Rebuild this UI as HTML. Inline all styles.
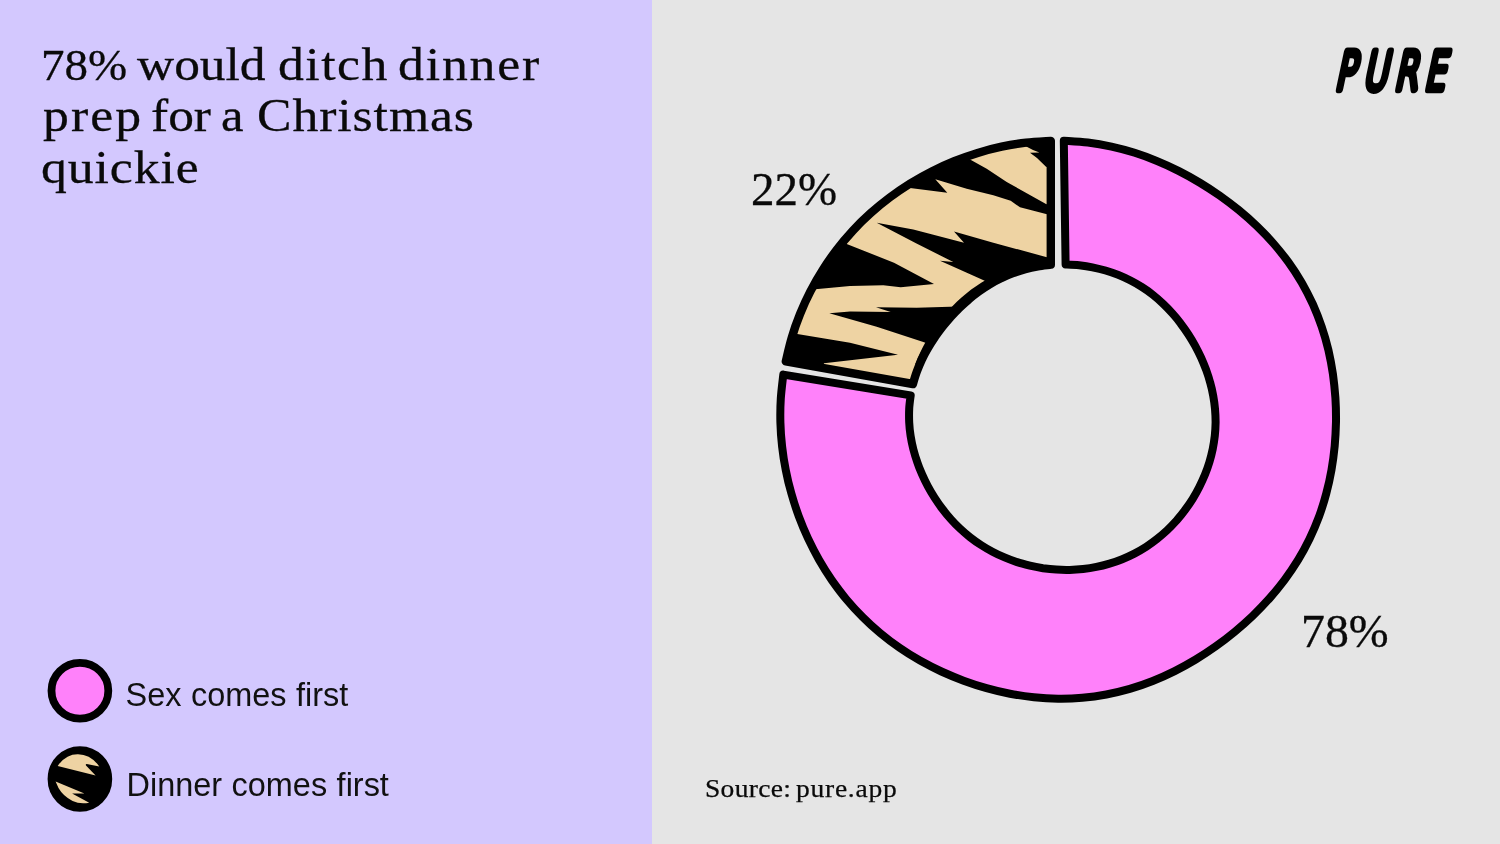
<!DOCTYPE html>
<html lang="en"><head><meta charset="utf-8"><title>78% would ditch dinner prep for a Christmas quickie</title>
<style>
html,body{margin:0;padding:0}
body{width:1500px;height:844px;position:relative;overflow:hidden;background:#e5e5e5;font-family:"Liberation Sans",sans-serif;color:#0a0a0a}
.left{position:absolute;left:0;top:0;width:652px;height:844px;background:#d3c8fe}
.fit{position:absolute;left:0;top:0;margin:0;font-family:"Liberation Serif",serif;font-weight:400;line-height:60px;white-space:nowrap}
.fit span{position:absolute;display:block;transform-origin:0 0;white-space:nowrap}
.title{font-size:47px;-webkit-text-stroke:.3px #0a0a0a}
.pct{font-size:47px;-webkit-text-stroke:.3px #0a0a0a}
.src{font-size:25px;-webkit-text-stroke:.25px #0a0a0a}
.leg{position:absolute;left:125.5px;font-size:32.45px;line-height:60px;white-space:nowrap;color:#111;word-spacing:.5px}
svg{position:absolute;left:0;top:0}
</style></head><body>
<div class="left"></div>
<h1 class="fit title">
<span style="font-size:45px;left:40.5px;top:34.5px;transform:scaleX(1.0436);letter-spacing:0.00px">78%</span> <span style="left:137.0px;top:33.5px;transform:scaleX(1.0940);letter-spacing:-0.00px">would</span> <span style="left:277.8px;top:33.5px;transform:scaleX(1.1000);letter-spacing:1.34px">ditch</span> <span style="left:397.8px;top:33.5px;transform:scaleX(1.1000);letter-spacing:1.67px">dinner</span>
<span style="left:42.5px;top:85.4px;transform:scaleX(1.1000);letter-spacing:1.91px">prep</span> <span style="left:150.9px;top:85.4px;transform:scaleX(1.0943);letter-spacing:0.00px">for</span> <span style="left:221.4px;top:85.4px;transform:scaleX(1.0778);letter-spacing:0.00px">a</span> <span style="left:256.8px;top:85.4px;transform:scaleX(1.1000);letter-spacing:0.83px">Christmas</span>
<span style="left:40.8px;top:137.0px;transform:scaleX(1.1000);letter-spacing:0.83px">quickie</span>
</h1>
<div class="leg" style="top:665px">Sex comes first</div>
<div class="leg" style="left:126.5px;top:754.5px">Dinner comes first</div>
<div class="fit pct"><span style="left:750.7px;top:159.0px;transform:scaleX(0.9988);letter-spacing:0.00px">22%</span></div>
<div class="fit pct"><span style="left:1300.6px;top:601.3px;transform:scaleX(1.0185);letter-spacing:0.00px">78%</span></div>
<div class="fit src"><span style="left:705.1px;top:758.9px;transform:scaleX(1.1000);letter-spacing:0.27px">Source:</span> <span style="left:796.2px;top:758.9px;transform:scaleX(1.1000);letter-spacing:0.68px">pure.app</span></div>
<svg width="1500" height="844" viewBox="0 0 1500 844">
<defs><clipPath id="tc"><path d="M785.8,361.4 C786.8,357.4 789.5,345.2 791.9,337.3 C794.2,329.4 797.0,321.6 800.1,313.9 C803.2,306.3 806.6,298.7 810.4,291.4 C814.2,284.0 818.3,276.8 822.7,269.9 C827.1,262.9 831.9,256.1 836.9,249.5 C841.9,243.0 847.3,236.7 852.9,230.6 C858.5,224.5 864.4,218.7 870.6,213.2 C876.7,207.7 883.1,202.4 889.7,197.5 C896.3,192.5 903.2,187.9 910.2,183.5 C917.2,179.2 924.4,175.1 931.8,171.4 C939.1,167.7 946.7,164.3 954.3,161.2 C962.0,158.1 969.8,155.3 977.7,152.9 C985.5,150.5 993.6,148.4 1001.6,146.7 C1009.7,145.0 1017.9,143.6 1026.1,142.7 C1034.3,141.7 1046.7,141.2 1050.8,140.9 L1050.8,264.7 C1048.7,265.0 1042.2,265.6 1037.9,266.3 C1033.6,267.1 1029.4,268.0 1025.2,269.1 C1021.0,270.2 1016.9,271.6 1012.9,273.1 C1008.8,274.6 1004.8,276.3 1001.0,278.2 C997.1,280.0 993.3,282.1 989.6,284.3 C985.9,286.5 982.3,288.9 978.9,291.4 C975.4,293.9 972.0,296.6 968.8,299.4 C965.5,302.1 962.4,305.0 959.3,308.0 C956.3,311.0 953.4,314.1 950.5,317.2 C947.7,320.4 944.9,323.7 942.3,327.0 C939.7,330.4 937.1,333.8 934.7,337.4 C932.3,340.9 930.0,344.5 927.9,348.2 C925.7,351.9 923.7,355.7 921.8,359.6 C920.0,363.5 918.3,367.5 916.8,371.6 C915.3,375.7 913.5,381.9 912.9,384.0 Z"/></clipPath></defs>
<path d="M1063.8,140.7 C1067.8,141.0 1079.8,141.5 1087.8,142.5 C1095.8,143.5 1103.7,144.9 1111.5,146.6 C1119.3,148.3 1127.1,150.4 1134.7,152.8 C1142.3,155.2 1149.9,158.0 1157.2,161.1 C1164.6,164.1 1171.9,167.5 1179.0,171.1 C1186.1,174.7 1193.1,178.6 1199.9,182.7 C1206.7,186.8 1213.4,191.2 1219.9,195.7 C1226.4,200.3 1232.8,205.2 1238.9,210.2 C1245.1,215.3 1251.1,220.6 1256.9,226.1 C1262.7,231.7 1268.3,237.5 1273.5,243.5 C1278.8,249.6 1283.9,255.9 1288.6,262.4 C1293.3,268.9 1297.7,275.7 1301.8,282.7 C1305.8,289.7 1309.5,296.9 1312.9,304.2 C1316.2,311.6 1319.1,319.1 1321.7,326.8 C1324.3,334.4 1326.5,342.2 1328.4,350.0 C1330.2,357.9 1331.7,365.8 1332.9,373.8 C1334.0,381.8 1334.8,389.8 1335.4,397.8 C1335.9,405.8 1336.1,413.9 1336.0,421.9 C1335.8,429.9 1335.4,438.0 1334.7,446.0 C1333.9,454.0 1332.9,461.9 1331.5,469.9 C1330.1,477.8 1328.4,485.7 1326.3,493.4 C1324.3,501.2 1321.8,508.9 1319.1,516.4 C1316.3,524.0 1313.1,531.4 1309.6,538.7 C1306.1,545.9 1302.3,553.0 1298.1,559.9 C1293.9,566.7 1289.4,573.4 1284.6,579.9 C1279.8,586.3 1274.7,592.5 1269.4,598.5 C1264.1,604.5 1258.5,610.3 1252.7,615.8 C1246.9,621.3 1240.9,626.6 1234.8,631.7 C1228.6,636.8 1222.3,641.7 1215.8,646.3 C1209.3,650.9 1202.6,655.3 1195.7,659.5 C1188.9,663.6 1181.8,667.5 1174.7,671.1 C1167.5,674.7 1160.2,678.0 1152.7,681.0 C1145.2,684.0 1137.6,686.6 1129.8,688.9 C1122.1,691.1 1114.2,693.0 1106.3,694.5 C1098.4,696.0 1090.3,697.1 1082.3,697.8 C1074.3,698.5 1066.1,698.8 1058.1,698.7 C1050.0,698.6 1041.9,698.1 1033.9,697.3 C1025.9,696.4 1017.9,695.2 1010.0,693.7 C1002.1,692.2 994.3,690.3 986.5,688.1 C978.8,686.0 971.2,683.5 963.6,680.7 C956.1,677.9 948.7,674.8 941.4,671.5 C934.1,668.1 927.0,664.4 920.0,660.5 C913.0,656.5 906.2,652.3 899.6,647.7 C893.0,643.2 886.5,638.3 880.4,633.2 C874.2,628.1 868.2,622.7 862.6,617.0 C856.9,611.3 851.5,605.4 846.3,599.2 C841.2,593.1 836.4,586.6 831.8,580.1 C827.3,573.5 823.0,566.7 819.0,559.7 C815.1,552.8 811.4,545.6 808.0,538.4 C804.7,531.2 801.6,523.8 798.8,516.3 C796.0,508.8 793.6,501.2 791.4,493.5 C789.2,485.9 787.3,478.1 785.8,470.2 C784.2,462.4 783.0,454.5 782.1,446.5 C781.2,438.6 780.6,430.6 780.4,422.6 C780.2,414.6 780.3,406.6 780.8,398.6 C781.3,390.6 782.9,378.6 783.3,374.6 L910.7,395.4 C910.4,397.6 909.4,404.3 909.2,408.8 C909.0,413.3 909.0,417.9 909.2,422.4 C909.4,426.9 909.9,431.4 910.6,435.8 C911.3,440.3 912.2,444.7 913.3,449.1 C914.4,453.4 915.7,457.7 917.2,461.9 C918.6,466.2 920.3,470.3 922.1,474.4 C923.9,478.5 925.8,482.5 927.9,486.4 C930.0,490.3 932.3,494.2 934.7,497.9 C937.1,501.6 939.6,505.3 942.3,508.8 C945.0,512.4 947.8,515.8 950.8,519.1 C953.7,522.4 956.8,525.6 960.1,528.6 C963.3,531.6 966.7,534.5 970.2,537.3 C973.7,540.0 977.3,542.6 981.0,545.0 C984.7,547.4 988.6,549.7 992.5,551.7 C996.4,553.8 1000.5,555.7 1004.6,557.4 C1008.7,559.2 1012.8,560.7 1017.1,562.1 C1021.3,563.5 1025.6,564.6 1029.9,565.7 C1034.2,566.7 1038.6,567.5 1043.0,568.2 C1047.4,568.8 1051.9,569.3 1056.3,569.6 C1060.8,569.9 1065.2,570.0 1069.7,569.9 C1074.2,569.8 1078.6,569.5 1083.1,569.0 C1087.5,568.5 1092.0,567.8 1096.4,566.9 C1100.8,566.1 1105.2,565.0 1109.5,563.7 C1113.8,562.4 1118.0,560.9 1122.2,559.2 C1126.3,557.5 1130.5,555.6 1134.4,553.6 C1138.4,551.5 1142.3,549.2 1146.1,546.8 C1149.9,544.3 1153.6,541.7 1157.1,538.9 C1160.6,536.1 1164.0,533.1 1167.3,530.1 C1170.6,527.0 1173.7,523.7 1176.7,520.4 C1179.6,517.0 1182.5,513.5 1185.1,509.9 C1187.8,506.3 1190.3,502.6 1192.7,498.8 C1195.1,494.9 1197.3,491.0 1199.3,487.0 C1201.3,483.0 1203.2,478.9 1204.9,474.8 C1206.6,470.6 1208.1,466.4 1209.4,462.1 C1210.7,457.8 1211.8,453.4 1212.7,449.1 C1213.6,444.7 1214.3,440.2 1214.8,435.8 C1215.3,431.3 1215.5,426.8 1215.6,422.3 C1215.6,417.9 1215.4,413.4 1215.0,408.9 C1214.6,404.5 1214.0,400.1 1213.2,395.7 C1212.4,391.3 1211.4,386.9 1210.2,382.7 C1209.1,378.4 1207.7,374.2 1206.2,370.0 C1204.6,365.9 1202.9,361.8 1201.1,357.7 C1199.3,353.7 1197.3,349.8 1195.2,345.9 C1193.1,342.0 1190.8,338.2 1188.4,334.5 C1186.0,330.8 1183.5,327.2 1180.8,323.7 C1178.2,320.1 1175.4,316.7 1172.4,313.4 C1169.5,310.1 1166.4,306.8 1163.2,303.8 C1159.9,300.7 1156.6,297.8 1153.1,295.0 C1149.6,292.2 1145.9,289.6 1142.1,287.2 C1138.4,284.8 1134.5,282.5 1130.5,280.5 C1126.5,278.4 1122.4,276.6 1118.3,274.9 C1114.1,273.2 1109.8,271.8 1105.5,270.5 C1101.2,269.2 1096.8,268.2 1092.4,267.3 C1088.0,266.4 1083.6,265.8 1079.1,265.3 C1074.6,264.8 1067.9,264.6 1065.6,264.5 Z" fill="#ff81fa" stroke="#000" stroke-width="8.0" stroke-linejoin="round"/>
<path d="M785.8,361.4 C786.8,357.4 789.5,345.2 791.9,337.3 C794.2,329.4 797.0,321.6 800.1,313.9 C803.2,306.3 806.6,298.7 810.4,291.4 C814.2,284.0 818.3,276.8 822.7,269.9 C827.1,262.9 831.9,256.1 836.9,249.5 C841.9,243.0 847.3,236.7 852.9,230.6 C858.5,224.5 864.4,218.7 870.6,213.2 C876.7,207.7 883.1,202.4 889.7,197.5 C896.3,192.5 903.2,187.9 910.2,183.5 C917.2,179.2 924.4,175.1 931.8,171.4 C939.1,167.7 946.7,164.3 954.3,161.2 C962.0,158.1 969.8,155.3 977.7,152.9 C985.5,150.5 993.6,148.4 1001.6,146.7 C1009.7,145.0 1017.9,143.6 1026.1,142.7 C1034.3,141.7 1046.7,141.2 1050.8,140.9 L1050.8,264.7 C1048.7,265.0 1042.2,265.6 1037.9,266.3 C1033.6,267.1 1029.4,268.0 1025.2,269.1 C1021.0,270.2 1016.9,271.6 1012.9,273.1 C1008.8,274.6 1004.8,276.3 1001.0,278.2 C997.1,280.0 993.3,282.1 989.6,284.3 C985.9,286.5 982.3,288.9 978.9,291.4 C975.4,293.9 972.0,296.6 968.8,299.4 C965.5,302.1 962.4,305.0 959.3,308.0 C956.3,311.0 953.4,314.1 950.5,317.2 C947.7,320.4 944.9,323.7 942.3,327.0 C939.7,330.4 937.1,333.8 934.7,337.4 C932.3,340.9 930.0,344.5 927.9,348.2 C925.7,351.9 923.7,355.7 921.8,359.6 C920.0,363.5 918.3,367.5 916.8,371.6 C915.3,375.7 913.5,381.9 912.9,384.0 Z" fill="#eed3a3"/>
<g clip-path="url(#tc)" fill="#000"><path d="M900.0,182.0 L910.0,188.0 L947.3,192.7 L935.3,179.3 L966.7,188.7 L993.3,195.3 L1010.7,200.7 L1020.0,207.3 L1046.0,214.0 L1062.0,217.0 L1062.0,209.0 L1046.0,204.0 L1006.7,182.0 L986.7,168.7 L968.7,158.7 L960.0,135.0 L890.0,165.0Z"/><path d="M1018.0,138.0 L1025.3,146.0 L1033.0,150.0 L1039.4,152.6 L1030.0,152.8 L1037.0,158.0 L1046.0,166.7 L1062.0,172.0 L1062.0,128.0Z"/><path d="M876.7,222.7 L913.3,229.6 L964.0,242.7 L954.0,231.6 L993.3,242.7 L1046.0,257.0 L1062.0,260.0 L1062.0,278.0 L992.0,292.0 L984.7,280.7 L940.0,260.7 L953.3,262.0 L916.0,243.3Z"/><path d="M828.0,235.0 L846.7,244.0 L894.0,262.7 L934.0,284.0 L900.7,287.3 L883.3,285.3 L850.0,286.0 L815.3,289.3 L790.0,293.0 L790.0,250.0Z"/><path d="M829.3,313.3 L850.0,311.6 L890.7,312.0 L876.0,307.3 L916.7,307.7 L950.0,306.7 L972.0,306.0 L972.0,352.0 L937.0,347.0 L923.3,342.0 L876.7,326.7Z"/><path d="M781.0,331.0 L797.3,334.0 L850.0,342.7 L898.0,354.7 L824.0,363.3 L820.0,378.0 L772.0,372.0Z"/><path d="M919.3,365.4 L921.8,359.8 L924.5,354.3 L927.4,349.0 L930.6,343.8 L933.8,338.7 L937.3,333.7 L940.9,328.8 L944.7,324.1 L948.5,319.5 L952.6,315.0 L956.7,310.6 L961.0,306.4 L965.5,302.3 L970.0,298.3 L974.7,294.5 L979.6,290.9 L984.6,287.5 L989.8,284.2 L995.1,281.2 L1000.5,278.4 L1006.0,275.8 L1011.7,273.5 L1017.5,271.4 L1023.3,269.6 L1022.2,265.6 L1016.1,267.2 L1010.1,269.1 L1004.2,271.2 L998.4,273.6 L992.7,276.3 L987.1,279.3 L981.6,282.5 L976.4,285.9 L971.2,289.6 L966.3,293.5 L961.5,297.6 L956.8,301.8 L952.4,306.2 L948.1,310.8 L944.0,315.6 L940.0,320.4 L936.2,325.4 L932.6,330.6 L929.2,335.8 L926.0,341.2 L923.0,346.7 L920.2,352.4 L917.6,358.1 L915.3,363.9Z"/></g>
<path d="M785.8,361.4 C786.8,357.4 789.5,345.2 791.9,337.3 C794.2,329.4 797.0,321.6 800.1,313.9 C803.2,306.3 806.6,298.7 810.4,291.4 C814.2,284.0 818.3,276.8 822.7,269.9 C827.1,262.9 831.9,256.1 836.9,249.5 C841.9,243.0 847.3,236.7 852.9,230.6 C858.5,224.5 864.4,218.7 870.6,213.2 C876.7,207.7 883.1,202.4 889.7,197.5 C896.3,192.5 903.2,187.9 910.2,183.5 C917.2,179.2 924.4,175.1 931.8,171.4 C939.1,167.7 946.7,164.3 954.3,161.2 C962.0,158.1 969.8,155.3 977.7,152.9 C985.5,150.5 993.6,148.4 1001.6,146.7 C1009.7,145.0 1017.9,143.6 1026.1,142.7 C1034.3,141.7 1046.7,141.2 1050.8,140.9 L1050.8,264.7 C1048.7,265.0 1042.2,265.6 1037.9,266.3 C1033.6,267.1 1029.4,268.0 1025.2,269.1 C1021.0,270.2 1016.9,271.6 1012.9,273.1 C1008.8,274.6 1004.8,276.3 1001.0,278.2 C997.1,280.0 993.3,282.1 989.6,284.3 C985.9,286.5 982.3,288.9 978.9,291.4 C975.4,293.9 972.0,296.6 968.8,299.4 C965.5,302.1 962.4,305.0 959.3,308.0 C956.3,311.0 953.4,314.1 950.5,317.2 C947.7,320.4 944.9,323.7 942.3,327.0 C939.7,330.4 937.1,333.8 934.7,337.4 C932.3,340.9 930.0,344.5 927.9,348.2 C925.7,351.9 923.7,355.7 921.8,359.6 C920.0,363.5 918.3,367.5 916.8,371.6 C915.3,375.7 913.5,381.9 912.9,384.0 Z" fill="none" stroke="#000" stroke-width="8.4" stroke-linejoin="round"/>
<!-- legend icons -->
<ellipse cx="79.9" cy="690.7" rx="28.4" ry="27.9" fill="#ff81fa" stroke="#000" stroke-width="7.8"/>
<g>
<ellipse cx="79.9" cy="779" rx="28.4" ry="28.9" fill="#000" stroke="#000" stroke-width="7.8"/>
<path d="M57.7,765.9 Q66,754 78,754.2 Q91,754.5 99.3,766.5 L88,764.3 Q85,763.6 86,765.5 L95.6,775.5 Z" fill="#eed3a3"/>
<path d="M55.6,781.4 L84.4,793.6 L72.1,793.4 L89.2,802.7 Q80,804.5 72.6,801 Q63,796 58.5,788 Z" fill="#eed3a3"/>
</g>
<text x="2053.5 2096.2 2144.6 2190.8" y="0" transform="translate(0,88.5) skewX(-12) scale(0.65,1)" font-family="DejaVu Sans Light, DejaVu Sans, sans-serif" font-weight="200" font-size="51" fill="#000" stroke="#000" stroke-width="7.4" vector-effect="non-scaling-stroke" stroke-linejoin="round" stroke-linecap="round">PURE</text>
</svg>
</body></html>
